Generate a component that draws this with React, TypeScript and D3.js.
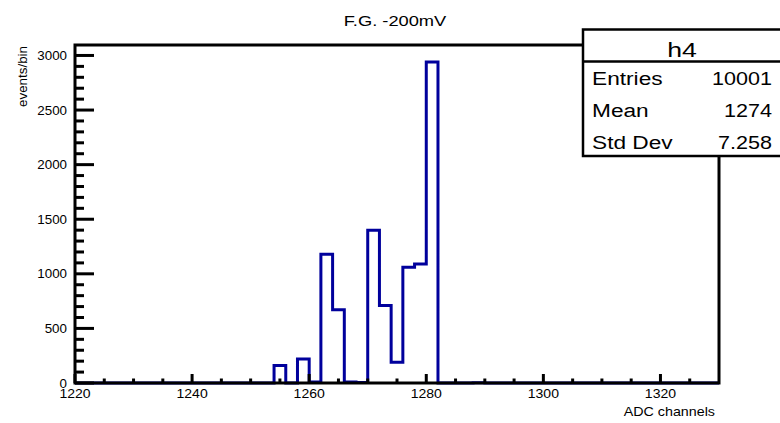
import React from "react";
import * as d3 from "d3";

// Histogram bins (lower edge, width 2 ADC channels) and counts
const binLow = [1254, 1256, 1258, 1260, 1262, 1264, 1266, 1268, 1270, 1272, 1274, 1276, 1278, 1280, 1282, 1284, 1286, 1288];
const counts = [160, 0, 220, 10, 1180, 670, 10, 5, 1400, 710, 190, 1060, 1090, 2940, 0, 0, 0, 3];
const binWidth = 2;

const xTicks = [1220, 1240, 1260, 1280, 1300, 1320];
const yTicks = [0, 500, 1000, 1500, 2000, 2500, 3000];

const title = "F.G. -200mV";
const xLabel = "ADC channels";
const yLabel = "events/bin";
const statsName = "h4";
const statsLabels = ["Entries", "Mean", "Std Dev"];
const statsValues = ["10001", "1274", "7.258"];

const W = 780;
const H = 423;
const frame = { left: 75, right: 719, top: 45, bottom: 383 };
const FONT = "'Liberation Sans', Arial, Helvetica, sans-serif";

function T({ x, y, sx = 1, size, anchor = "start", rotate = 0, children }: any) {
  return (
    <text
      transform={`translate(${x},${y}) rotate(${rotate}) scale(${sx},1)`}
      fontSize={size}
      textAnchor={anchor}
      fontFamily={FONT}
      fill="#000"
    >
      {children}
    </text>
  );
}

export default function App() {
  const x = d3.scaleLinear().domain([1220, 1330]).range([frame.left, frame.right]);
  const yMax = 2940 * 1.053;
  const y = d3.scaleLinear().domain([0, yMax]).range([frame.bottom, frame.top]);

  // step path across the whole range
  const pts: [number, number][] = [];
  pts.push([x(1220), y(0)]);
  binLow.forEach((b, i) => {
    pts.push([x(b), y(i === 0 ? 0 : counts[i - 1])]);
    pts.push([x(b), y(counts[i])]);
  });
  const lastEdge = binLow[binLow.length - 1] + binWidth;
  pts.push([x(lastEdge), y(counts[counts.length - 1])]);
  pts.push([x(lastEdge), y(0)]);
  pts.push([x(1330), y(0)]);
  const path = d3.line()(pts) || "";

  const yMinor = d3.range(0, 3001, 100).filter((v) => v % 500 !== 0);
  const xMinor = d3.range(1220, 1330, 5).filter((v) => (v - 1220) % 20 !== 0);

  const box = { left: 583, right: 784, top: 29.5, div: 61.5, bottom: 156 };

  return (
    <svg width={W} height={H} style={{ position: "absolute", left: 0, top: 0, display: "block", background: "#fff" }}>
      <rect x={0} y={0} width={W} height={H} fill="#fff" />
      {/* title */}
      <T x={395} y={26} sx={1.18} size={15.5} anchor="middle">{title}</T>

      {/* histogram */}
      <path d={path} fill="none" stroke="#00009c" strokeWidth={3} strokeLinejoin="miter" />

      {/* frame */}
      <rect
        x={frame.left}
        y={frame.top}
        width={frame.right - frame.left}
        height={frame.bottom - frame.top}
        fill="none"
        stroke="#000"
        strokeWidth={3}
      />

      {/* y ticks */}
      {yTicks.map((v) => (
        <g key={"y" + v}>
          <line x1={frame.left} x2={frame.left + 19} y1={y(v)} y2={y(v)} stroke="#000" strokeWidth={3} />
          <T x={67} y={y(v) + 4.5} sx={1.07} size={12.5} anchor="end">{String(v)}</T>
        </g>
      ))}
      {yMinor.map((v) => (
        <line key={"ym" + v} x1={frame.left} x2={frame.left + 9} y1={y(v)} y2={y(v)} stroke="#000" strokeWidth={3} />
      ))}

      {/* x ticks */}
      {xTicks.map((v) => (
        <g key={"x" + v}>
          <line x1={x(v)} x2={x(v)} y1={frame.bottom} y2={frame.bottom - 9} stroke="#000" strokeWidth={3} />
          <T x={x(v)} y={397.5} sx={1.08} size={13} anchor="middle">{String(v)}</T>
        </g>
      ))}
      {xMinor.map((v) => (
        <line key={"xm" + v} x1={x(v)} x2={x(v)} y1={frame.bottom} y2={frame.bottom - 4.5} stroke="#000" strokeWidth={3} />
      ))}

      {/* axis labels */}
      <T x={27} y={46} sx={1.07} size={12.5} anchor="end" rotate={-90}>{yLabel}</T>
      <T x={715} y={416} sx={1.1} size={13} anchor="end">{xLabel}</T>

      {/* stats box */}
      <rect
        x={box.left}
        y={box.top}
        width={box.right - box.left}
        height={box.bottom - box.top}
        fill="#fff"
        stroke="#000"
        strokeWidth={2.5}
      />
      <line x1={box.left} x2={box.right} y1={box.div} y2={box.div} stroke="#000" strokeWidth={2.5} />
      <T x={682} y={56.5} sx={1.3} size={20.5} anchor="middle">{statsName}</T>
      {statsLabels.map((l, i) => (
        <g key={l}>
          <T x={592} y={85 + i * 32} sx={1.22} size={18.6} anchor="start">{l}</T>
          <T x={772} y={85 + i * 32} sx={1.16} size={18.6} anchor="end">{statsValues[i]}</T>
        </g>
      ))}
    </svg>
  );
}
